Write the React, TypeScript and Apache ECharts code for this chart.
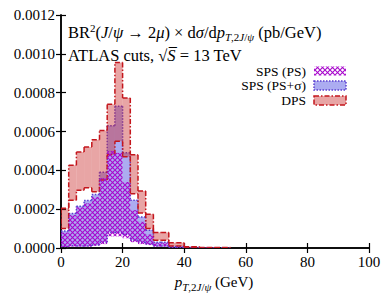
import React, { useEffect, useRef } from "react";
import * as echarts from "echarts";

// Bin edges (GeV)
const binStart = [0, 2.5, 5, 7.5, 10, 12.5, 15, 17.5, 20, 22.5, 25, 27.5, 30, 32.5, 35, 37.5, 40, 42.5, 45, 47.5, 50, 52.5];
const binEnd = [2.5, 5, 7.5, 10, 12.5, 15, 17.5, 20, 22.5, 25, 27.5, 30, 32.5, 35, 37.5, 40, 42.5, 45, 47.5, 50, 52.5, 55];

// DPS band (pb/GeV)
const dpsHigh = [0.000205, 0.000426, 0.000494, 0.00052, 0.000557, 0.000605, 0.00074, 0.000955, 0.000773, 0.00048, 0.000294, 0.000174, 0.00008, 0.00008, 0.000027, 0.000027, 0.000006, 0.000006, 0.000003, 0.000003, 0.000002, 0.000002];
const dpsLow = [0.0001, 0.000246, 0.000297, 0.00031, 0.00029, 0.00035, 0.00048, 0.00055, 0.00047, 0.00028, 0.00018, 0.0001, 0.00004, 0.00004, 0.00001, 0.00001, 0.000002, 0.000002, 0.000001, 0.000001, 0.0000005, 0.0000005];

// SPS (PS+sigma) band
const spsSigHigh = [0.000088, 0.000178, 0.000215, 0.000245, 0.000275, 0.00039, 0.00063, 0.00073, 0.00049, 0.000246, 0.00016, 0.000092, 0.00003, 0.00003, 0.000008, 0.000008, 0.000003, 0.000003, 0.000001, 0.000001, 0, 0];
const spsSigLow = [0.000008, 0.000012, 0.00001, 0.00001, 0.000015, 0.00003, 0.00008, 0.00008, 0.00007, 0.00004, 0.00003, 0.00002, 0.00001, 0.00001, 0.000004, 0.000004, 0.000001, 0.000001, 0, 0, 0, 0];

// SPS (PS) band
const spsHigh = [0.00008, 0.00017, 0.00021, 0.00023, 0.000263, 0.00036, 0.0005, 0.00049, 0.00034, 0.000195, 0.000135, 0.00007, 0.000025, 0.000025, 0.000006, 0.000006, 0.000002, 0.000002, 0.000001, 0.000001, 0, 0];
const spsLow = [0.000005, 0.000008, 0.000008, 0.000008, 0.000012, 0.00002, 0.00006, 0.00006, 0.00005, 0.00003, 0.00002, 0.000015, 0.000008, 0.000008, 0.000003, 0.000003, 0.000001, 0.000001, 0, 0, 0, 0];

const legendLabels = ["SPS (PS)", "SPS (PS+σ)", "DPS"];
const xTicks = [0, 20, 40, 60, 80, 100];

const FONT = "Liberation Serif";
const RED = "#c4161c";
const RED_FILL = "rgba(200,40,40,0.42)";
const BLUE = "#5a3fd0";
const BLUE_FILL = "rgba(70,70,225,0.45)";

function makeHatch(): string {
  const c = document.createElement("canvas");
  c.width = 5;
  c.height = 5;
  const ctx = c.getContext("2d")!;
  ctx.strokeStyle = "#a808cc";
  ctx.lineWidth = 1.1;
  ctx.beginPath();
  ctx.moveTo(-1, -1);
  ctx.lineTo(6, 6);
  ctx.moveTo(6, -1);
  ctx.lineTo(-1, 6);
  ctx.stroke();
  return c.toDataURL();
}

function buildData(low: number[], high: number[]) {
  return binStart.map((x0, i) => [
    x0,
    binEnd[i],
    low[i],
    high[i],
    i > 0 ? low[i - 1] : low[i],
    i > 0 ? high[i - 1] : high[i],
    i === 0 ? 1 : 0,
    i === binStart.length - 1 ? 1 : 0,
  ]);
}

function bandRenderer(fill: any, stroke: string | null, dash: number[] | null, lw: number) {
  return (params: any, api: any) => {
    const x0 = api.value(0), x1 = api.value(1), lo = api.value(2), hi = api.value(3);
    const plo = api.value(4), phi = api.value(5), first = api.value(6), last = api.value(7);
    const a = api.coord([x0, hi]);
    const b = api.coord([x1, lo]);
    const yPlo = api.coord([x0, plo])[1];
    const yPhi = api.coord([x0, phi])[1];
    const children: any[] = [
      {
        type: "rect",
        shape: { x: a[0], y: a[1], width: b[0] - a[0], height: Math.max(0, b[1] - a[1]) },
        style: { fill },
      },
    ];
    if (stroke) {
      const ls = { stroke, lineWidth: lw, lineDash: dash || undefined, fill: null };
      const ln = (x1_: number, y1_: number, x2_: number, y2_: number) => ({
        type: "line",
        shape: { x1: x1_, y1: y1_, x2: x2_, y2: y2_ },
        style: ls,
      });
      children.push(ln(a[0], a[1], b[0], a[1]));
      children.push(ln(a[0], b[1], b[0], b[1]));
      if (!first) {
        children.push(ln(a[0], yPhi, a[0], a[1]));
        children.push(ln(a[0], yPlo, a[0], b[1]));
      } else {
        children.push(ln(a[0], a[1], a[0], b[1]));
      }
      if (last) children.push(ln(b[0], a[1], b[0], b[1]));
    }
    return { type: "group", children };
  };
}

export default function App() {
  const ref = useRef<HTMLDivElement>(null);
  useEffect(() => {
    if (!ref.current) return;
    const chart = echarts.init(ref.current, null, { renderer: "svg" });
    const hatch = { image: makeHatch(), imageWidth: 5, imageHeight: 5, repeat: "repeat" };

    const axisLabelStyle = { fontFamily: FONT, fontSize: 15, color: "#000" };
    const tick = { show: true, inside: true, length: 5, lineStyle: { color: "#000", width: 1.2 } };
    const axisLine = { show: true, lineStyle: { color: "#000", width: 1.5 } };

    const base = { fontFamily: FONT, fontSize: 16, fill: "#000" };
    const rich = {
      n: { fontFamily: FONT, fontSize: 16.5, lineHeight: 20, verticalAlign: "middle" },
      i: { fontFamily: FONT, fontSize: 16.5, fontStyle: "italic", lineHeight: 20, verticalAlign: "middle" },
      sup: { fontFamily: FONT, fontSize: 11, lineHeight: 20, verticalAlign: "top" },
      sub: { fontFamily: FONT, fontSize: 11, fontStyle: "italic", lineHeight: 20, verticalAlign: "bottom" },
      subn: { fontFamily: FONT, fontSize: 11, lineHeight: 20, verticalAlign: "bottom" },
      xl: { fontFamily: FONT, fontSize: 15, lineHeight: 20, verticalAlign: "middle" },
      xlI: { fontFamily: FONT, fontSize: 15, fontStyle: "italic", lineHeight: 20, verticalAlign: "middle" },
    };

    const line1 =
      "{n|BR}{sup|2}{n|(}{i|J}{n|/}{i|ψ}{n| → 2}{i|μ}{n|) × d}{i|σ}{n|/d}{i|p}{sub|T}{subn|,2}{sub|J}{subn|/}{sub|ψ}{n| (pb/GeV)}";
    const line2 = "{n|ATLAS cuts, √}{i|S̅}{n| = 13 TeV}";
    const xName = "{xlI|p}{sub|T}{subn|,2}{sub|J}{subn|/}{sub|ψ}{xl| (GeV)}";

    const legendX = 306;
    const swX = 314;
    const swW = 32;
    const legendY = [71, 85.5, 100.5];
    const swStyles: any[] = [
      { fill: hatch, stroke: null },
      { fill: BLUE_FILL, stroke: BLUE, lineDash: [1.5, 1.5], lineWidth: 1.5 },
      { fill: RED_FILL, stroke: RED, lineDash: [5, 2, 1.5, 2], lineWidth: 1.5 },
    ];

    const graphics: any[] = [
      { type: "text", x: 68, y: 32, style: { ...base, text: line1, rich, textVerticalAlign: "middle" } },
      { type: "text", x: 68, y: 55, style: { ...base, text: line2, rich, textVerticalAlign: "middle" } },
      { type: "text", x: 214, y: 282, style: { ...base, text: xName, rich, textAlign: "center", textVerticalAlign: "middle" } },
    ];
    legendLabels.forEach((lab, k) => {
      graphics.push({
        type: "text",
        x: legendX,
        y: legendY[k],
        style: { fontFamily: FONT, fontSize: 13.5, fill: "#000", text: lab, textAlign: "right", textVerticalAlign: "middle" },
      });
      const s = swStyles[k];
      graphics.push({
        type: "rect",
        shape: { x: swX, y: legendY[k] - 4.5, width: swW, height: 9 },
        style: { fill: s.fill, stroke: s.stroke || undefined, lineWidth: s.lineWidth || 0, lineDash: s.lineDash },
      });
    });

    chart.setOption({
      animation: false,
      backgroundColor: "#fff",
      grid: { left: 61, right: 21, top: 15, bottom: 45, containLabel: false },
      xAxis: [
        {
          type: "value",
          min: 0,
          max: 100,
          interval: 20,
          position: "bottom",
          axisLine,
          axisTick: tick,
          splitLine: { show: false },
          axisLabel: { ...axisLabelStyle, margin: 6, formatter: (v: number) => (xTicks.includes(v) ? String(v) : "") },
        },
        {
          type: "value",
          min: 0,
          max: 100,
          interval: 20,
          position: "top",
          axisLine,
          axisTick: tick,
          splitLine: { show: false },
          axisLabel: { show: false },
        },
      ],
      yAxis: [
        {
          type: "value",
          min: 0,
          max: 0.0012,
          interval: 0.0002,
          position: "left",
          axisLine,
          axisTick: tick,
          splitLine: { show: false },
          axisLabel: { ...axisLabelStyle, margin: 6, formatter: (v: number) => v.toFixed(4) },
        },
        {
          type: "value",
          min: 0,
          max: 0.0012,
          interval: 0.0002,
          position: "right",
          axisLine,
          axisTick: tick,
          splitLine: { show: false },
          axisLabel: { show: false },
        },
      ],
      series: [
        {
          type: "custom",
          name: legendLabels[1],
          clip: true,
          data: buildData(spsSigLow, spsSigHigh),
          encode: { x: [0, 1], y: [2, 3] },
          renderItem: bandRenderer(BLUE_FILL, BLUE, [1.5, 1.5], 1.5),
          z: 2,
        },
        {
          type: "custom",
          name: legendLabels[2],
          clip: true,
          data: buildData(dpsLow, dpsHigh),
          encode: { x: [0, 1], y: [2, 3] },
          renderItem: bandRenderer(RED_FILL, RED, [5, 2, 1.5, 2], 1.5),
          z: 3,
        },
        {
          type: "custom",
          name: legendLabels[0],
          clip: true,
          data: buildData(spsLow, spsHigh),
          encode: { x: [0, 1], y: [2, 3] },
          renderItem: bandRenderer(hatch, null, null, 0),
          z: 4,
        },
      ],
      graphic: graphics,
    });
    return () => chart.dispose();
  }, []);
  return <div ref={ref} style={{ width: 390, height: 293, position: "absolute", left: 0, top: 0 }} />;
}
